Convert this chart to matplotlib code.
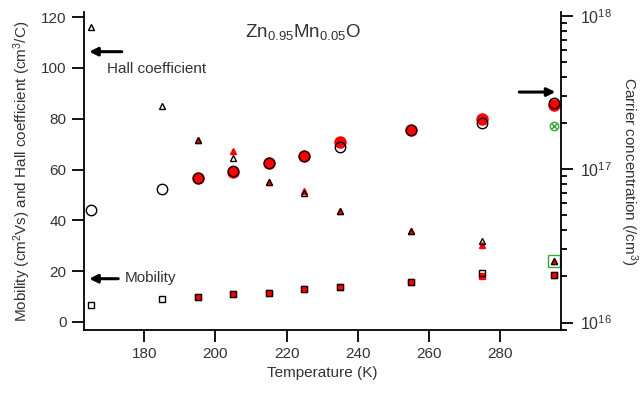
import matplotlib
matplotlib.use("Agg")
import matplotlib.pyplot as plt

plt.rcParams['font.family'] = ['Liberation Sans', 'DejaVu Sans']
plt.rcParams['mathtext.fontset'] = 'custom'
plt.rcParams['mathtext.rm'] = 'Liberation Sans'
plt.rcParams['mathtext.it'] = 'Liberation Sans:italic'
plt.rcParams['mathtext.bf'] = 'Liberation Sans:bold'
TEXT = '#333333'

# temperatures (K)
temp_a = [165, 185, 195, 205, 215, 225, 235, 255, 275, 295]   # open black markers
temp_b = [195, 205, 215, 225, 235, 255, 275, 295]             # red filled markers

# Hall coefficient (cm^3/C)
hall_a = [116.3, 85.2, 71.6, 64.6, 55.2, 50.9, 43.7, 35.6, 32.0, 24.0]
hall_b = [71.6, 67.3, 55.2, 51.6, 43.7, 35.6, 30.4, 24.0]

# mobility (cm^2/Vs)
mob_a = [6.7, 8.9, 9.6, 10.9, 11.5, 13.0, 13.7, 15.6, 19.2, 18.3]
mob_b = [9.6, 10.9, 11.5, 13.0, 13.7, 15.6, 18.2, 18.3]

# carrier concentration (/cm^3)
conc_a = [5.42e16, 7.40e16, 8.72e16, 9.73e16, 1.10e17, 1.21e17, 1.40e17, 1.80e17, 1.99e17, 2.71e17]
conc_b = [8.72e16, 9.55e16, 1.10e17, 1.21e17, 1.51e17, 1.80e17, 2.11e17, 2.62e17]

# extra green points at 295 K
green_temp = [295]
green_mob = [24.1]
green_conc = [1.91e17]

fig = plt.figure(figsize=(6.42, 3.93), dpi=100)
ax = fig.add_axes([0.1308, 0.1603, 0.743, 0.809])
ax2 = ax.twinx()

ax.set_xlim(163.1, 297.1)
ax.set_ylim(-3.2, 122)
ax2.set_yscale('log')
ax2.set_ylim(10 ** 15.952, 10 ** 18.024)

# red series first
ax.plot(temp_b, hall_b, '^', ms=4.5, mfc='red', mec='red', ls='none')
ax.plot(temp_b, mob_b, 's', ms=5, mfc='red', mec='red', ls='none')
ax2.plot(temp_b, conc_b, 'o', ms=8, mfc='red', mec='red', ls='none')

# open black series on top
ax.plot(temp_a, hall_a, '^', ms=4.5, mfc='none', mec='black', mew=1, ls='none')
ax.plot(temp_a, mob_a, 's', ms=4.5, mfc='none', mec='black', mew=1, ls='none')
ax2.plot(temp_a, conc_a, 'o', ms=7.5, mfc='none', mec='black', mew=1, ls='none')

ax.plot(green_temp, green_mob, 's', ms=8, mfc='none', mec='#33aa33', mew=1, ls='none')
ax2.plot(green_temp, green_conc, 'o', ms=6, mfc='none', mec='#33aa33', mew=1, ls='none')
ax2.plot(green_temp, green_conc, 'x', ms=4, mec='#33aa33', mew=1, ls='none')

for a in (ax, ax2):
    a.spines['top'].set_visible(False)
    for s in a.spines.values():
        s.set_linewidth(1.3)
ax.spines['right'].set_visible(False)
ax2.spines['left'].set_visible(False)
ax2.spines['bottom'].set_visible(False)

ax.set_xticks([180, 200, 220, 240, 260, 280])
ax.set_yticks([0, 20, 40, 60, 80, 100, 120])
ax.tick_params(axis='both', direction='out', length=8.5, width=1.3, labelsize=11, labelcolor=TEXT, pad=4)
ax2.tick_params(axis='y', which='major', direction='out', length=8.5, width=1.3, labelsize=11.5,
                labelcolor=TEXT, pad=5)
ax2.tick_params(axis='y', which='minor', direction='out', length=4.5, width=1.3)
ax2.set_yticks([1e16, 1e17, 1e18])
ax2.set_yticklabels([r'$10^{16}$', r'$10^{17}$', r'$10^{18}$'])

ax.set_xlabel('Temperature (K)', fontsize=11, color=TEXT, labelpad=3)
ax.set_ylabel(r'Mobility (cm$^2$Vs) and Hall coefficient (cm$^3$/C)', fontsize=11, color=TEXT, labelpad=6)
ax2.set_ylabel(r'Carrier concentration (/cm$^3$)', fontsize=11, color=TEXT, rotation=270, labelpad=20)

ax.text(0.459, 0.937, r'Zn$_{0.95}$Mn$_{0.05}$O', transform=ax.transAxes, ha='center',
        va='center', fontsize=13.5, color=TEXT)

# arrows
arrow = dict(arrowstyle='-|>', color='black', lw=2.2, mutation_scale=12)
ax.annotate('', xy=(163.8, 106.4), xytext=(174.5, 106.4), arrowprops=arrow)
ax.text(169.5, 99.5, 'Hall coefficient', fontsize=11, color=TEXT, va='center')
ax.annotate('', xy=(163.8, 17.0), xytext=(173.5, 17.0), arrowprops=arrow)
ax.text(174.6, 17.3, 'Mobility', fontsize=11, color=TEXT, va='center')
ax.annotate('', xy=(296.3, 90.5), xytext=(284.6, 90.5), arrowprops=arrow)

fig.savefig('out.png', dpi=100)
